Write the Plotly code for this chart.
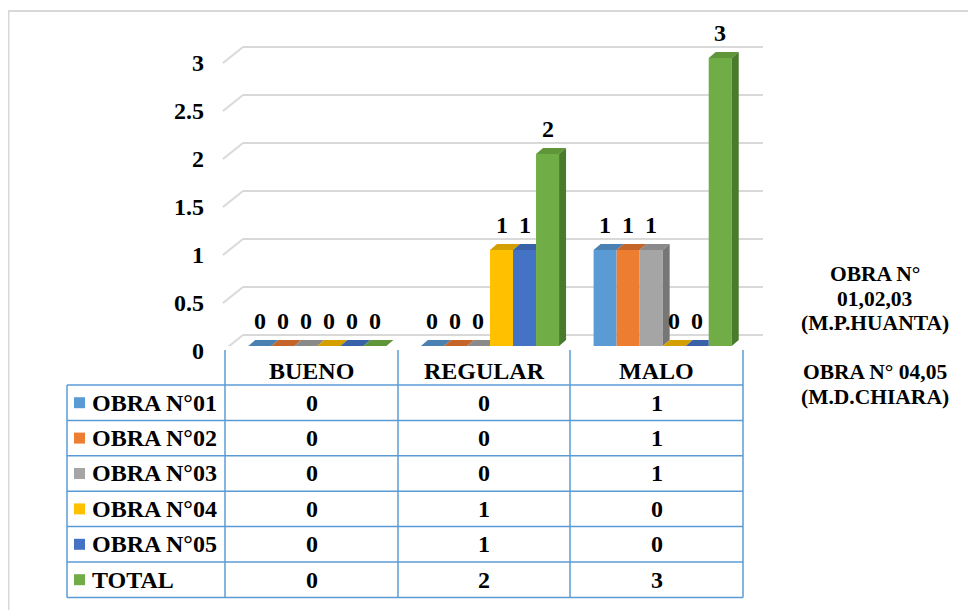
import plotly.graph_objects as go

# ---------------- data ----------------
categories = ["BUENO", "REGULAR", "MALO"]
series_names = ["OBRA N°01", "OBRA N°02", "OBRA N°03", "OBRA N°04", "OBRA N°05", "TOTAL"]
obra01 = [0, 0, 1]
obra02 = [0, 0, 1]
obra03 = [0, 0, 1]
obra04 = [0, 1, 0]
obra05 = [0, 1, 0]
total = [0, 2, 3]
y_ticks = [0, 0.5, 1, 1.5, 2, 2.5, 3]
y_tick_labels = ["0", "0.5", "1", "1.5", "2", "2.5", "3"]
note_lines_a = ["OBRA N°", "01,02,03", "(M.P.HUANTA)"]
note_lines_b = ["OBRA N° 04,05", "(M.D.CHIARA)"]

series_values = [obra01, obra02, obra03, obra04, obra05, total]

# ---------------- styles ----------------
front_colors = ["#5B9BD5", "#ED7D31", "#A5A5A5", "#FFC000", "#4472C4", "#70AD47"]
top_colors = ["#4A80B2", "#C5652A", "#8A8A8A", "#D4A000", "#3A62A8", "#5E9639"]
side_colors = ["#41719C", "#AE5A21", "#767676", "#BF9000", "#2F5597", "#4A7A2C"]
FONT = "Times New Roman, Liberation Serif, serif"
FS = 24
FS_NOTE = 21.5
GRID = "#D9D9D9"
TABLE_LINE = "#5B9BD5"

W, H = 976, 610
OFF = 8  # page offset of the figure (body margin)


def px_x(p):
    return (p - OFF) / W


def px_y(p):
    return 1 - (p - OFF) / H


X0, X1 = 225, 743          # front plane (category columns), page px
Y_BASE, Y_TOP = 346, 30     # page px of value 0 for bars, top of plot
PX_UNIT = 96
cat_px = (X1 - X0) / len(categories)
shift = 6 / cat_px
DX = 7 / cat_px
DY = 6 / PX_UNIT
n = len(series_values)
GROUP = 0.8
bw = GROUP / n
y_max = (Y_BASE - Y_TOP) / PX_UNIT

# tick-label axis: value 0 sits 5px below the bar base plane
LBL_ZERO = Y_BASE + 5
LBL_BOTTOM = LBL_ZERO + 10
lbl_range = [(LBL_ZERO - LBL_BOTTOM) / PX_UNIT, (LBL_ZERO - Y_TOP) / PX_UNIT]

xs = list(range(len(categories)))

fig = go.Figure()

# front faces
for i, vals in enumerate(series_values):
    fig.add_trace(go.Bar(
        x=xs, y=vals, name=series_names[i], marker_color=front_colors[i],
        marker_line_width=0, showlegend=False, hoverinfo="skip",
    ))

# 3D top and side faces, derived from the values
for i, vals in enumerate(series_values):
    tx, ty, sx, sy = [], [], [], []
    for c, v in enumerate(vals):
        xl = c - GROUP / 2 + i * bw
        xr = xl + bw
        nv = series_values[i + 1][c] if i + 1 < n else None
        if nv is not None and nv > v:
            tx += [xl, xr, xr, xl + DX, xl, None]
            ty += [v, v, v + DY, v + DY, v, None]
        else:
            tx += [xl, xr, xr + DX, xl + DX, xl, None]
            ty += [v, v, v + DY, v + DY, v, None]
        base = nv if (nv is not None) else 0
        if base < v:
            sx += [xr, xr + DX, xr + DX, xr, xr, None]
            sy += [base, base + DY, v + DY, v, base, None]
    fig.add_trace(go.Scatter(x=tx, y=ty, mode="none", fill="toself",
                             fillcolor=top_colors[i], showlegend=False, hoverinfo="skip"))
    if sx:
        fig.add_trace(go.Scatter(x=sx, y=sy, mode="none", fill="toself",
                                 fillcolor=side_colors[i], showlegend=False, hoverinfo="skip"))

shapes = []
annotations = []

# data labels
for i, vals in enumerate(series_values):
    for c, v in enumerate(vals):
        annotations.append(dict(
            x=c - GROUP / 2 + (i + 0.5) * bw, y=v, xref="x", yref="y",
            text=str(v), showarrow=False, yshift=25, yanchor="middle",
            font=dict(family=FONT, size=FS, color="black", weight="bold"),
        ))

# 3D gridlines (back wall + floor diagonal)
BACK = 11 / PX_UNIT
DIAG = 16 / PX_UNIT
for t in y_ticks:
    shapes.append(dict(type="line", xref="paper", yref="y",
                       x0=px_x(243), x1=px_x(763), y0=t + BACK, y1=t + BACK,
                       line=dict(color=GRID, width=2), layer="below"))
    shapes.append(dict(type="line", xref="paper", yref="y",
                       x0=px_x(223), x1=px_x(243), y0=t + BACK - DIAG, y1=t + BACK,
                       line=dict(color=GRID, width=2), layer="below"))

# outer chart border (left and top)
shapes.append(dict(type="line", xref="paper", yref="paper", x0=px_x(8.5), x1=px_x(8.5),
                   y0=px_y(11), y1=px_y(640), line=dict(color=GRID, width=2)))
shapes.append(dict(type="line", xref="paper", yref="paper", x0=px_x(8), x1=px_x(990),
                   y0=px_y(11), y1=px_y(11), line=dict(color=GRID, width=2)))

# data table
col_x = [67, 225, 398, 570, 743]
HEAD_TOP = 350
ROW_TOP = 385
ROW_H = 35.4
n_rows = len(series_names)
tbl_bottom = ROW_TOP + ROW_H * n_rows
for r in range(n_rows + 1):
    yy = ROW_TOP + r * ROW_H
    shapes.append(dict(type="line", xref="paper", yref="paper", x0=px_x(col_x[0]), x1=px_x(col_x[-1]),
                       y0=px_y(yy), y1=px_y(yy), line=dict(color=TABLE_LINE, width=1.5)))
shapes.append(dict(type="line", xref="paper", yref="paper", x0=px_x(col_x[0]), x1=px_x(col_x[0]),
                   y0=px_y(ROW_TOP), y1=px_y(tbl_bottom), line=dict(color=TABLE_LINE, width=1.5)))
for cx in col_x[1:]:
    shapes.append(dict(type="line", xref="paper", yref="paper", x0=px_x(cx), x1=px_x(cx),
                       y0=px_y(HEAD_TOP), y1=px_y(tbl_bottom), line=dict(color=TABLE_LINE, width=1.5)))

tfont = dict(family=FONT, size=FS, color="black", weight="bold")
for c, cat in enumerate(categories):
    annotations.append(dict(x=px_x((col_x[c + 1] + col_x[c + 2]) / 2), y=px_y(370.5),
                            xref="paper", yref="paper", text=cat, showarrow=False,
                            xanchor="center", yanchor="middle", font=tfont))
for r, name in enumerate(series_names):
    yc = ROW_TOP + (r + 0.5) * ROW_H
    shapes.append(dict(type="rect", xref="paper", yref="paper",
                       x0=px_x(74), x1=px_x(85), y0=px_y(yc - 5.5), y1=px_y(yc + 5.5),
                       fillcolor=front_colors[r], line=dict(width=0)))
    annotations.append(dict(x=px_x(90), y=px_y(yc), xref="paper", yref="paper",
                            text=name, showarrow=False, xanchor="left", yanchor="middle",
                            font=tfont))
    for c in range(len(categories)):
        annotations.append(dict(x=px_x((col_x[c + 1] + col_x[c + 2]) / 2), y=px_y(yc),
                                xref="paper", yref="paper", text=str(series_values[r][c]),
                                showarrow=False, xanchor="center", yanchor="middle", font=tfont))

# right-side notes
nfont = dict(family=FONT, size=FS_NOTE, color="black", weight="bold")
for k, line in enumerate(note_lines_a):
    annotations.append(dict(x=px_x(875), y=px_y(274 + 24.5 * k), xref="paper", yref="paper",
                            text=line, showarrow=False, xanchor="center", yanchor="middle", font=nfont))
for k, line in enumerate(note_lines_b):
    annotations.append(dict(x=px_x(875), y=px_y(372 + 24.5 * k), xref="paper", yref="paper",
                            text=line, showarrow=False, xanchor="center", yanchor="middle", font=nfont))

fig.update_layout(
    width=W, height=H, autosize=False,
    margin=dict(l=0, r=0, t=0, b=0),
    paper_bgcolor="white", plot_bgcolor="rgba(0,0,0,0)",
    barmode="group", bargap=1 - GROUP, bargroupgap=0,
    showlegend=False,
    xaxis=dict(domain=[px_x(X0), px_x(X1)], range=[-0.5 - shift, len(categories) - 0.5 - shift],
               visible=False, fixedrange=True),
    yaxis=dict(domain=[px_y(Y_BASE), px_y(Y_TOP)], range=[0, y_max], visible=False, fixedrange=True),
    yaxis2=dict(domain=[px_y(LBL_BOTTOM), px_y(Y_TOP)], side="left", anchor="x",
                range=lbl_range,
                tickmode="array", tickvals=y_ticks, ticktext=y_tick_labels,
                showgrid=False, zeroline=False, showline=False, ticks="",
                ticklabelstandoff=20, automargin=False, fixedrange=True,
                tickfont=dict(family=FONT, size=FS, color="black", weight="bold")),
    shapes=shapes, annotations=annotations,
)
# invisible trace so that yaxis2 is rendered
fig.add_trace(go.Scatter(x=[None], y=[None], yaxis="y2", showlegend=False, hoverinfo="skip"))

fig.write_html("out.html")
